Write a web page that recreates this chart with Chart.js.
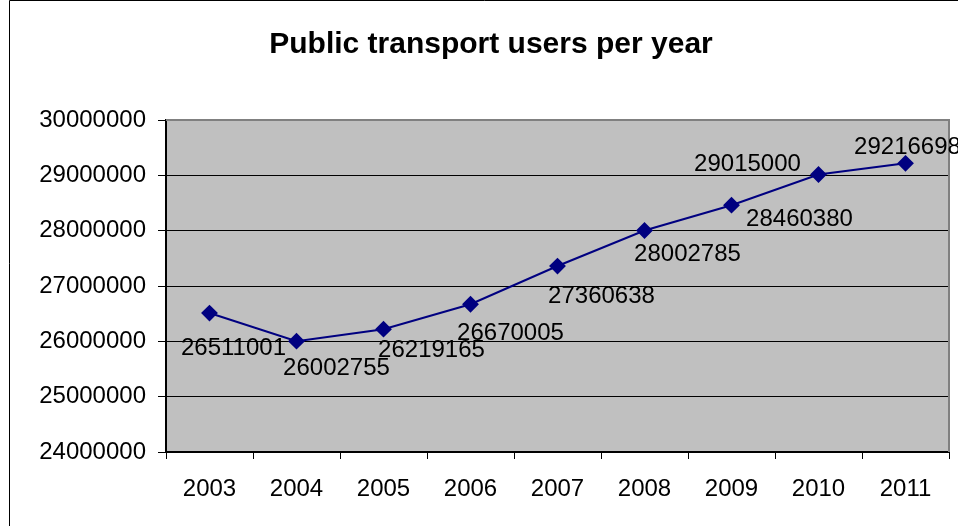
<!DOCTYPE html>
<html>
<head>
<meta charset="utf-8">
<script src="https://cdn.jsdelivr.net/npm/chart.js@4"></script>
<style>
  html, body { margin: 0; padding: 0; background: #fff; }
  #wrap { width: 958px; height: 526px; }
</style>
</head>
<body>
<div id="wrap"><canvas id="usersChart" width="958" height="526"></canvas></div>
<script>
const years = ['2003', '2004', '2005', '2006', '2007', '2008', '2009', '2010', '2011'];
const users = [26511001, 26002755, 26219165, 26670005, 27360638, 28002785, 28460380, 29015000, 29216698];
const yMin = 24000000;
const yMax = 30000000;
const yStep = 1000000;

// where each value label sits relative to its point (px)
const labelOffsets = [[24, 35], [40, 27], [48, 21], [40, 29], [44, 30], [43, 24], [68, 14], [-71, -10], [2, -16]];

const FONT = 'Arial, "Liberation Sans", sans-serif';

const plotBackground = {
    id: 'plotBackground',
    beforeDraw(chart) {
        const { ctx, chartArea: a } = chart;
        ctx.save();
        ctx.fillStyle = '#c0c0c0';
        ctx.fillRect(a.left, a.top, a.right - a.left, a.bottom - a.top);
        // outer frame
        ctx.strokeStyle = '#000';
        ctx.lineWidth = 1;
        ctx.beginPath();
        ctx.moveTo(9.5, 526);
        ctx.lineTo(9.5, 0.5);
        ctx.lineTo(960, 0.5);
        ctx.stroke();
        ctx.restore();
    },
    afterDatasetsDraw(chart) {
        const { ctx, chartArea: a } = chart;
        ctx.save();
        ctx.strokeStyle = '#808080';
        ctx.lineWidth = 2;
        ctx.beginPath();
        ctx.moveTo(a.left, a.top);
        ctx.lineTo(a.right, a.top);
        ctx.lineTo(a.right, a.bottom);
        ctx.stroke();
        ctx.restore();
    }
};

const valueLabels = {
    id: 'valueLabels',
    afterDatasetsDraw(chart) {
        const { ctx } = chart;
        const meta = chart.getDatasetMeta(0);
        ctx.save();
        ctx.font = '24px ' + FONT;
        ctx.fillStyle = '#000';
        ctx.textAlign = 'center';
        ctx.textBaseline = 'middle';
        meta.data.forEach(function (pt, i) {
            const off = labelOffsets[i];
            ctx.fillText(String(users[i]), pt.x + off[0], pt.y + off[1]);
        });
        ctx.restore();
    }
};

const ctx = document.getElementById('usersChart').getContext('2d');
new Chart(ctx, {
    type: 'line',
    data: {
        labels: years,
        datasets: [{
            label: 'Users',
            data: users,
            borderColor: '#000080',
            backgroundColor: '#000080',
            borderWidth: 2,
            pointStyle: 'rectRot',
            pointRadius: 7,
            pointHoverRadius: 7,
            tension: 0
        }]
    },
    options: {
        responsive: false,
        animation: false,
        layout: { padding: { left: 33, right: 9, top: 0, bottom: 0 } },
        plugins: {
            legend: { display: false },
            tooltip: { enabled: false },
            title: {
                display: true,
                text: 'Public transport users per year',
                color: '#000',
                font: { family: FONT, size: 30, weight: 'bold' },
                padding: { top: 27, bottom: 57 }
            }
        },
        scales: {
            x: {
                offset: true,
                grid: {
                    offset: true,
                    drawOnChartArea: false,
                    drawTicks: true,
                    tickLength: 7,
                    color: '#000'
                },
                border: { color: '#000', width: 2 },
                ticks: {
                    color: '#000',
                    font: { family: FONT, size: 24 },
                    padding: 16,
                    maxRotation: 0
                },
                afterFit(scale) { scale.height = 74; }
            },
            y: {
                min: yMin,
                max: yMax,
                grid: {
                    color: '#000',
                    lineWidth: 1,
                    drawTicks: true,
                    tickLength: 8
                },
                border: { color: '#000', width: 2 },
                ticks: {
                    stepSize: yStep,
                    color: '#000',
                    font: { family: FONT, size: 24 },
                    padding: 12,
                    callback: function (v) { return String(v); }
                },
                afterFit(scale) { scale.width = 133; }
            }
        }
    },
    plugins: [plotBackground, valueLabels]
});
</script>
</body>
</html>
